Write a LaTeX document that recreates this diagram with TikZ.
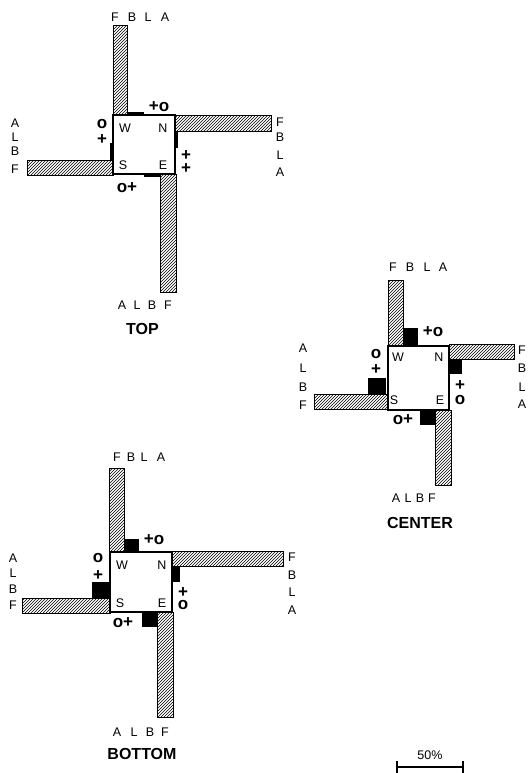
\documentclass[tikz,border=0pt]{standalone}
\usepackage{fontspec}
\setmainfont{Liberation Sans}
\usetikzlibrary{patterns}
\tikzset{
  bar/.style={draw=black, line width=1pt, pattern=north east lines},
  blk/.style={fill=black, draw=none},
  sq/.style={draw=black, line width=1.6pt, fill=white},
  lab/.style={font=\fontsize{12.5}{13}\selectfont, inner sep=0pt, text height=9pt, text depth=0pt},
  sym/.style={font=\fontsize{17}{17}\selectfont\bfseries, inner sep=0pt, text height=8.5pt, text depth=0pt},
  symstack/.style={font=\fontsize{17}{#1}\selectfont\bfseries, inner sep=0pt, align=center},
  captext/.style={font=\fontsize{16}{16}\selectfont\bfseries, inner sep=0pt, text height=11.5pt, text depth=0pt},
}
\begin{document}
\begin{tikzpicture}[x=1pt, y=-1pt]
\useasboundingbox (0,0) rectangle (528,773);
% ================= TOP =================
\draw[bar] (113,26) rectangle (127,115);
\draw[bar] (175,116) rectangle (271,131);
\draw[bar] (27,160) rectangle (113,175);
\draw[bar] (160,174) rectangle (176,292);
\draw[sq] (113,115) rectangle (175,174);
\fill[blk] (127,112) rectangle (144,115.5);
\fill[blk] (174.5,131) rectangle (178,148);
\fill[blk] (110,143) rectangle (113.5,160);
\fill[blk] (144,173.5) rectangle (160,177);
\node[lab] (tW) at (125,128) {W};
\node[lab] (tN) at (163,128) {N};
\node[lab] (tS) at (123,165) {S};
\node[lab] (tE) at (163,165) {E};
\node[lab] (t1) at (115,17) {F};
\node[lab] (t2) at (132,17) {B};
\node[lab] (t3) at (148,17) {L};
\node[lab] (t4) at (165,17) {A};
\node[lab] (t5) at (122,305) {A};
\node[lab] (t6) at (137,305) {L};
\node[lab] (t7) at (152,305) {B};
\node[lab] (t8) at (168,305) {F};
\node[lab] (t9) at (15,123) {A};
\node[lab] (t10) at (15,137) {L};
\node[lab] (t11) at (15,151) {B};
\node[lab] (t12) at (15,169) {F};
\node[lab] (t13) at (280,122) {F};
\node[lab] (t14) at (280,137) {B};
\node[lab] (t15) at (280,155) {L};
\node[lab] (t16) at (280,172) {A};
\node[sym] (ts1) at (159,107) {+o};
\node[symstack=15.5pt] (ts2) at (102,131.8) {o\\+};
\node[symstack=13pt] (ts4) at (186,162.5) {+\\+};
\node[sym] (ts6) at (127,188) {o+};
\node[captext] (tcap) at (142.5,328.5) {TOP};
% ================= CENTER =================
\draw[bar] (388,280) rectangle (403,346);
\draw[bar] (449,344) rectangle (514,359);
\draw[bar] (314,394) rectangle (388,409);
\draw[bar] (435,410) rectangle (451,485);
\draw[sq] (388,346) rectangle (449,410);
\fill[blk] (403,328) rectangle (418,345);
\fill[blk] (450,359) rectangle (462,374);
\fill[blk] (368,378) rectangle (386,394);
\fill[blk] (420,411) rectangle (435,425);
\node[lab] (cW) at (398,357) {W};
\node[lab] (cN) at (439,357) {N};
\node[lab] (cS) at (394,400) {S};
\node[lab] (cE) at (440,400) {E};
\node[lab] (c1) at (393,267) {F};
\node[lab] (c2) at (410,267) {B};
\node[lab] (c3) at (427,267) {L};
\node[lab] (c4) at (443,267) {A};
\node[lab] (c5) at (396,498) {A};
\node[lab] (c6) at (408,498) {L};
\node[lab] (c7) at (420,498) {B};
\node[lab] (c8) at (432,498) {F};
\node[lab] (c9) at (303,348) {A};
\node[lab] (c10) at (303,368) {L};
\node[lab] (c11) at (303,387) {B};
\node[lab] (c12) at (303,405) {F};
\node[lab] (c13) at (522,350) {F};
\node[lab] (c14) at (522,368) {B};
\node[lab] (c15) at (522,387) {L};
\node[lab] (c16) at (522,404) {A};
\node[sym] (cs1) at (433,332) {+o};
\node[symstack=15.5pt] (cs2) at (376,361.8) {o\\+};
\node[symstack=13.5pt] (cs4) at (460,392.8) {+\\o};
\node[sym] (cs6) at (403,420) {o+};
\node[captext] (ccap) at (420,522.5) {CENTER};
% ================= BOTTOM =================
\draw[bar] (109,468) rectangle (124,552);
\draw[bar] (172,551) rectangle (283,566);
\draw[bar] (22,598) rectangle (110,613);
\draw[bar] (157,612) rectangle (173,717);
\draw[sq] (110,552) rectangle (172,612);
\fill[blk] (124,539) rectangle (139,551);
\fill[blk] (173,566) rectangle (180,582);
\fill[blk] (92,582) rectangle (109,598);
\fill[blk] (142,613) rectangle (157,627);
\node[lab] (bW) at (122,565) {W};
\node[lab] (bN) at (162,565) {N};
\node[lab] (bS) at (120,603) {S};
\node[lab] (bE) at (162,603) {E};
\node[lab] (b1) at (117,457) {F};
\node[lab] (b2) at (131,457) {B};
\node[lab] (b3) at (144,457) {L};
\node[lab] (b4) at (161,457) {A};
\node[lab] (b5) at (117,732) {A};
\node[lab] (b6) at (134,732) {L};
\node[lab] (b7) at (150,732) {B};
\node[lab] (b8) at (165,732) {F};
\node[lab] (b9) at (13,558) {A};
\node[lab] (b10) at (13,573) {L};
\node[lab] (b11) at (13,589) {B};
\node[lab] (b12) at (13,605) {F};
\node[lab] (b13) at (292,557) {F};
\node[lab] (b14) at (292,575) {B};
\node[lab] (b15) at (292,592) {L};
\node[lab] (b16) at (292,610) {A};
\node[sym] (bs1) at (154,540) {+o};
\node[symstack=17.5pt] (bs2) at (98,566.8) {o\\+};
\node[symstack=11.5pt] (bs4) at (183,598.8) {+\\o};
\node[sym] (bs6) at (123,623) {o+};
\node[captext] (bcap) at (142,754) {BOTTOM};
% ================= SCALE =================
\coordinate (sL) at (397,767);
\coordinate (sR) at (463,767);
\draw[line width=1.6pt] (sL) -- (sR);
\draw[line width=1.6pt] ([yshift=-6pt]sL) -- ([yshift=6pt]sL);
\draw[line width=1.6pt] ([yshift=-6pt]sR) -- ([yshift=6pt]sR);
\node[lab] (scale) at (430,755) {50\%};
\end{tikzpicture}
\end{document}
